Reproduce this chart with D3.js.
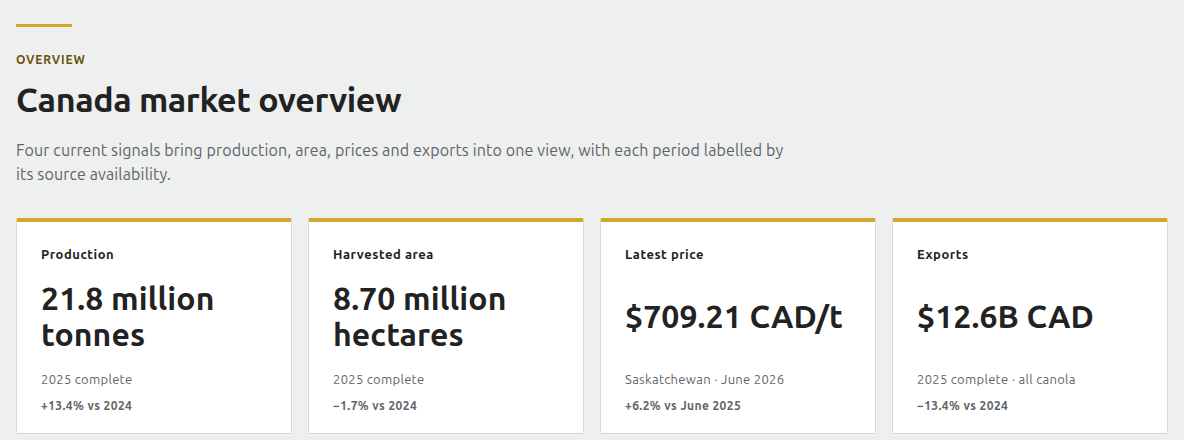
<!DOCTYPE html>
<html>
<head>
<meta charset="utf-8">
<script src="https://cdn.jsdelivr.net/npm/d3@7"></script>
<style>
  html, body { margin: 0; padding: 0; background: #eef0f0; }
  body { width: 1184px; height: 440px; overflow: hidden; position: relative; font-family: "Ubuntu", "Lato", "Noto Sans", sans-serif; color: #222; }
  .rule { position: absolute; left: 16px; top: 24px; width: 56px; height: 3px; background: #d6a72c; }
  .eyebrow { position: absolute; left: 16px; top: 52px; font-size: 12px; line-height: 15px; font-weight: 700; letter-spacing: 0.85px; color: #6b5210; }
  h1 { position: absolute; left: 16px; top: 78px; margin: 0; font-size: 34px; line-height: 42px; font-weight: 700; letter-spacing: -0.4px; }
  .lede { position: absolute; left: 16px; top: 138px; width: 778px; margin: 0; font-size: 16px; line-height: 24px; letter-spacing: 0.14px; color: #5f6468; }
  .card { position: absolute; top: 218px; width: 276px; height: 216px; box-sizing: border-box; background: #fff; border: 1px solid #d6d8d8; border-top: 4px solid #d6a72c; border-radius: 2px; }
  .card div { position: absolute; left: 24px; white-space: nowrap; }
  .label { top: 24px; font-size: 13px; line-height: 17px; font-weight: 700; letter-spacing: 0.55px; }
  .value { top: 58px; height: 72px; width: 226px; display: flex; align-items: center; white-space: normal !important; font-size: 32px; line-height: 36px; font-weight: 700; letter-spacing: 0.1px; }
  .period { top: 148px; font-size: 13px; line-height: 18px; letter-spacing: 0.3px; color: #5f6468; }
  .change { top: 176px; font-size: 12px; line-height: 16px; font-weight: 700; letter-spacing: 0.4px; color: #5f6468; }
</style>
</head>
<body>
<script>
var eyebrow = "OVERVIEW";
var title = "Canada market overview";
var lede = "Four current signals bring production, area, prices and exports into one view, with each period labelled by its source availability.";

var labels = ["Production", "Harvested area", "Latest price", "Exports"];
var values = ["21.8 million tonnes", "8.70 million hectares", "$709.21 CAD/t", "$12.6B CAD"];
var periods = ["2025 complete", "2025 complete", "Saskatchewan · June 2026", "2025 complete · all canola"];
var changes = ["+13.4% vs 2024", "−1.7% vs 2024", "+6.2% vs June 2025", "−13.4% vs 2024"];

var body = d3.select("body");
body.append("div").attr("class", "rule");
body.append("div").attr("class", "eyebrow").text(eyebrow);
body.append("h1").text(title);
body.append("p").attr("class", "lede").text(lede);

var x = d3.scaleBand()
    .domain(d3.range(labels.length))
    .range([16, 1184])
    .paddingInner(0)
    .align(0);

var cards = body.selectAll(".card")
    .data(labels)
  .enter().append("div")
    .attr("class", "card")
    .style("left", function(d, i) { return x(i) + "px"; });

cards.append("div").attr("class", "label").text(function(d) { return d; });
cards.append("div").attr("class", "value").append("span").text(function(d, i) { return values[i]; });
cards.append("div").attr("class", "period").text(function(d, i) { return periods[i]; });
cards.append("div").attr("class", "change").text(function(d, i) { return changes[i]; });
</script>
</body>
</html>
